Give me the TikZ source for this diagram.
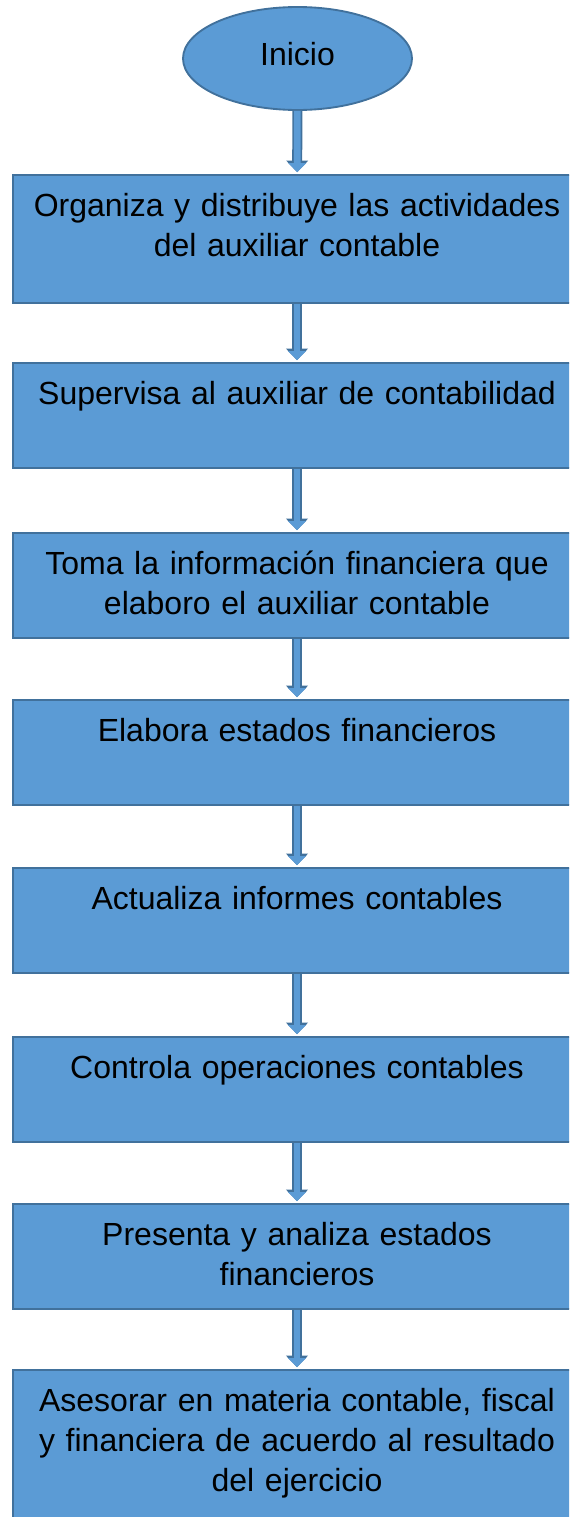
\documentclass[tikz,border=0pt]{standalone}
\usepackage{fontspec}
\setmainfont{Liberation Sans}
\usepackage{xcolor}
\usepackage{tikz}
\usetikzlibrary{arrows.meta,shapes.geometric}

\definecolor{fillb}{HTML}{5B9BD5}
\definecolor{bdr}{HTML}{41719C}

\begin{document}
\begin{tikzpicture}[x=0.75pt, y=-0.75pt,
    box/.style={rectangle, draw=bdr, line width=1.4pt, fill=fillb,
        anchor=north, text width=415pt, minimum width=426pt, align=center,
        inner ysep=0pt, text height=31pt, text depth=47.75pt,
        font=\fontsize{24pt}{30pt}\selectfont},
    tallbox/.style={box, text depth=65pt},
    lastbox/.style={box, text depth=104pt},
    startnode/.style={ellipse, draw=bdr, line width=1.4pt, fill=fillb,
        minimum width=171.75pt, minimum height=77.25pt, inner sep=0pt,
        text height=17pt, text depth=7.2pt,
        font=\fontsize{24pt}{30pt}\selectfont},
    flow/.style={draw=fillb, line width=5pt, shorten >=1.4pt,
        -{Triangle[length=6.8pt, width=13pt]},
        preaction={draw=bdr, line width=7.5pt, -{Triangle[length=8.6pt, width=16pt]}}},
]
\clip (0,0) rectangle (569,1517);
\useasboundingbox (0,0) rectangle (569,1517);

% start
\node[startnode] (inicio) at (297.5,58.5) {Inicio};

% steps
\node[tallbox] (organiza) at (297,174) {Organiza y distribuye las actividades\\del auxiliar contable};
\node[box] (supervisa) at (297,362) {Supervisa al auxiliar de contabilidad};
\node[box] (toma) at (297,532) {Toma la información financiera que\\elaboro el auxiliar contable};
\node[box] (elabora) at (297,699) {Elabora estados financieros};
\node[box] (actualiza) at (297,867) {Actualiza informes contables};
\node[box] (controla) at (297,1036) {Controla operaciones contables};
\node[box] (presenta) at (297,1203) {Presenta y analiza estados\\financieros};
\node[lastbox] (asesorar) at (297,1369) {Asesorar en materia contable, fiscal\\y financiera de acuerdo al resultado\\del ejercicio};

% arrows
\draw[flow] (inicio) -- (organiza);
\draw[flow] (organiza) -- (supervisa);
\draw[flow] (supervisa) -- (toma);
\draw[flow] (toma) -- (elabora);
\draw[flow] (elabora) -- (actualiza);
\draw[flow] (actualiza) -- (controla);
\draw[flow] (controla) -- (presenta);
\draw[flow] (presenta) -- (asesorar);
\end{tikzpicture}
\end{document}
